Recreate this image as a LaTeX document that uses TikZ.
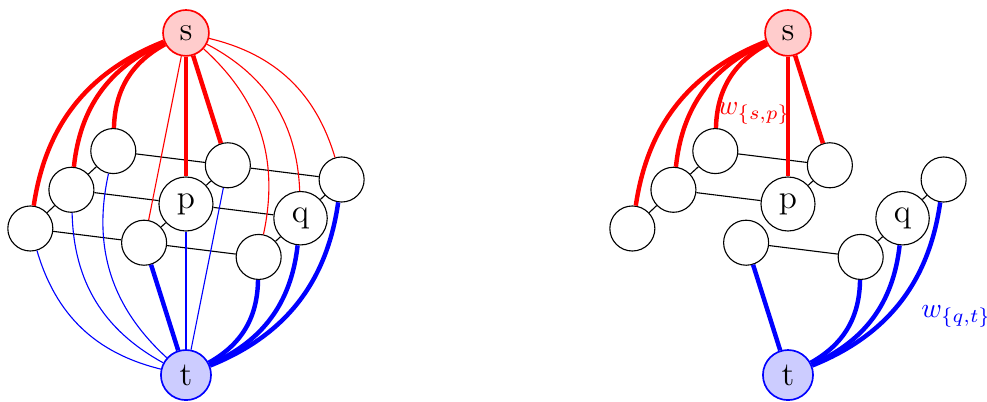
\documentclass[tikz,border=0pt]{standalone}
\usepackage{amsmath,amssymb}

\begin{document}
\begin{tikzpicture}[every node/.style={font=\large},
   vert/.style={circle,draw,fill=white,minimum size=5.7mm},
   src/.style={vert,draw=red,fill=red!20,semithick},
   snk/.style={vert,draw=blue,fill=blue!20,semithick},
   sfat/.style={red,ultra thick},
   sthin/.style={red},
   tfat/.style={blue,ultra thick},
   tthin/.style={blue},
   wlab/.style={font=\normalsize}]
  \useasboundingbox (-2.354,-2.494) rectangle (10.139,2.582);
  % full graph with both flows
  \node[src](s) at (0,2.165){s};
  \node[snk](t) at (0,-2.165){t};
  \node[vert](v1) at (-1.97,-0.31){};
  \node[vert](v2) at (-1.45,0.18){};
  \node[vert](v3) at (-0.92,0.67){};
  \node[vert](v4) at (-0.53,-0.49){};
  \node[vert](v5) at (0,0){p};
  \node[vert](v6) at (0.53,0.49){};
  \node[vert](v7) at (0.92,-0.67){};
  \node[vert](v8) at (1.45,-0.18){q};
  \node[vert](v9) at (1.97,0.31){};
  \foreach \a/\b in {v1/v2,v2/v3,v4/v5,v5/v6,v7/v8,v8/v9,v1/v4,v4/v7,v2/v5,v5/v8,v3/v6,v6/v9}\draw(\a)--(\b);
  \foreach \v in {v1,v2,v3}\draw[sfat](s) to[bend right](\v);
  \foreach \v in {v5,v6}\draw[sfat](s)--(\v);
  \draw[sthin](s)--(v4);
  \foreach \v in {v7,v8,v9}\draw[sthin](s) to[bend left](\v);
  \foreach \v in {v1,v2,v3}\draw[tthin](t) to[bend left](\v);
  \foreach \v in {v5,v6}\draw[tthin](t)--(\v);
  \draw[tfat](t)--(v4);
  \foreach \v in {v7,v8,v9}\draw[tfat](t) to[bend right](\v);
  % the cut: only heavy edges remain
  \begin{scope}[xshift=7.62cm]
  \node[src](s2) at (0,2.165){s};
  \node[snk](t2) at (0,-2.165){t};
  \node[vert](w1) at (-1.97,-0.31){};
  \node[vert](w2) at (-1.45,0.18){};
  \node[vert](w3) at (-0.92,0.67){};
  \node[vert](w4) at (-0.53,-0.49){};
  \node[vert](w5) at (0,0){p};
  \node[vert](w6) at (0.53,0.49){};
  \node[vert](w7) at (0.92,-0.67){};
  \node[vert](w8) at (1.45,-0.18){q};
  \node[vert](w9) at (1.97,0.31){};
  \foreach \a/\b in {w1/w2,w2/w3,w2/w5,w3/w6,w5/w6,w4/w7,w7/w8,w8/w9}\draw(\a)--(\b);
  \foreach \v in {w1,w2,w3}\draw[sfat](s2) to[bend right](\v);
  \foreach \v in {w5,w6}\draw[sfat](s2)--(\v);
  \draw[tfat](t2)--(w4);
  \foreach \v in {w7,w8,w9}\draw[tfat](t2) to[bend right](\v);
  \node[wlab,red](wsp) at (-0.43,1.14){$w_{\{s,p\}}$};
  \node[wlab,blue](wqt) at (2.13,-1.42){$w_{\{q,t\}}$};
  \end{scope}
\end{tikzpicture}
\end{document}
